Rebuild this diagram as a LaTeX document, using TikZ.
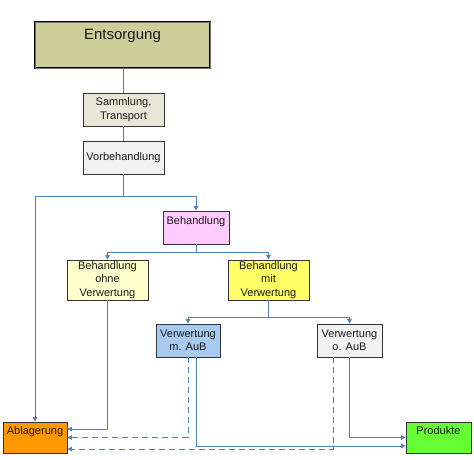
\documentclass[tikz,border=0pt]{standalone}
\usepackage{fontspec}
\setmainfont{Liberation Sans}
\usetikzlibrary{arrows.meta}
\definecolor{linec}{RGB}{79,129,189}
\definecolor{entsc}{RGB}{206,206,154}
\definecolor{sammc}{RGB}{232,232,216}
\definecolor{greyc}{RGB}{242,242,242}
\definecolor{behc}{RGB}{255,204,255}
\definecolor{ohnec}{RGB}{255,255,204}
\definecolor{mitc}{RGB}{255,255,102}
\definecolor{maubc}{RGB}{166,202,240}
\definecolor{ablc}{RGB}{255,153,0}
\definecolor{prodc}{RGB}{102,255,51}
\tikzset{
  box/.style={draw=black!80, line width=0.8pt, rectangle, align=center, inner sep=0.5pt,
    font=\fontsize{11}{13.5}\selectfont, text=black!90},
  conn/.style={draw=linec, line width=0.8pt},
  arr/.style={conn, -{Triangle[length=4.5pt,width=4.5pt]}},
  darr/.style={arr, dash pattern=on 6pt off 4pt},
}
\begin{document}
\begin{tikzpicture}[x=1pt,y=-1pt]
\useasboundingbox (0,0) rectangle (474,459);
\fill[white] (0,0) rectangle (474,459);
% boxes
\node[box, fill=entsc, draw=black, double=black!55, double distance=1pt, line width=0.6pt,
  minimum width=175pt, minimum height=46pt, font=\fontsize{15}{18}\selectfont, text depth=22pt] (ents) at (122.5,45) {Entsorgung};
\node[box, fill=sammc, minimum width=81pt, minimum height=33pt] (samm) at (123.5,109.5) {Sammlung,\\Transport};
\node[box, fill=greyc, minimum width=81pt, minimum height=33pt] (vorb) at (123.5,157.5) {Vorbehandlung};
\node[box, fill=behc, minimum width=66pt, minimum height=33pt, text depth=14pt] (beh) at (196,227.5) {Behandlung};
\node[box, fill=ohnec, minimum width=81pt, minimum height=40pt] (ohne) at (107.5,280) {Behandlung\\ohne\\Verwertung};
\node[box, fill=mitc, minimum width=81pt, minimum height=40pt] (mit) at (268.5,280) {Behandlung\\mit\\Verwertung};
\node[box, fill=maubc, minimum width=64pt, minimum height=33pt] (maub) at (188,340.5) {Verwertung\\m. AuB};
\node[box, fill=greyc, minimum width=65pt, minimum height=33pt] (oaub) at (349.5,340.5) {Verwertung\\o. AuB};
\node[box, fill=ablc, minimum width=64pt, minimum height=31pt, text depth=14pt] (abl) at (35,437.5) {Ablagerung};
\node[box, fill=prodc, minimum width=65pt, minimum height=31pt, text depth=14pt] (prod) at (438.5,437.5) {Produkte};
% branch points
\coordinate (b1) at (123.5,196);
\coordinate (b2) at (196,252);
\coordinate (b3) at (268.5,317);
% connectors
\draw[conn] (samm.north |- ents.south) -- (samm.north);
\draw[conn] (samm) -- (vorb);
\draw[conn] (vorb) -- (b1);
\draw[arr] (b1) -| (beh.north);
\draw[arr] (b1) -| (abl.north);
\draw[conn] (beh) -- (b2);
\draw[arr] (b2) -| (ohne.north);
\draw[arr] (b2) -| (mit.north);
\draw[conn] (mit) -- (b3);
\draw[arr] (b3) -| (maub.north);
\draw[arr] (b3) -| (oaub.north);
\draw[arr] (ohne.south) |- ([yshift=8.5pt]abl.east);
\draw[darr] (maub.south) |- (abl.east);
\draw[arr] ([xshift=8pt]maub.south) |- ([yshift=-8.5pt]prod.west);
\draw[darr] ([xshift=-16.5pt]oaub.south) |- ([yshift=-11.5pt]abl.east);
\draw[arr] (oaub.south) |- (prod.west);
\end{tikzpicture}
\end{document}
